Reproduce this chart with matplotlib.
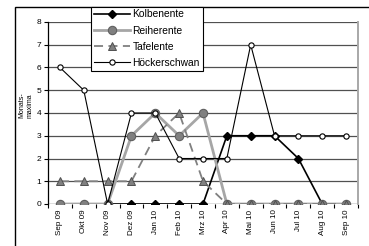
import numpy as np
import matplotlib
matplotlib.use('Agg')
import matplotlib.pyplot as plt
from matplotlib.patches import Rectangle

plt.rcParams['font.family'] = ['Liberation Sans', 'DejaVu Sans']

# data
months = ['Sep 09', 'Okt 09', 'Nov 09', 'Dez 09', 'Jan 10', 'Feb 10', 'Mrz 10',
          'Apr 10', 'Mai 10', 'Jun 10', 'Jul 10', 'Aug 10', 'Sep 10']
kolbenente = [0, 0, 0, 0, 0, 0, 0, 3, 3, 3, 2, 0, 0]
reiherente = [0, 0, 0, 3, 4, 3, 4, 0, 0, 0, 0, 0, 0]
tafelente = [1, 1, 1, 1, 3, 4, 1, 0, 0, 0, 0, 0, 0]
hoeckerschwan = [6, 5, 0, 4, 4, 2, 2, 2, 7, 3, 3, 3, 3]
y_ticks = [0, 1, 2, 3, 4, 5, 6, 7, 8]

fig = plt.figure(figsize=(3.69, 2.46), dpi=100)
ax = fig.add_axes([48 / 369, 1 - 204 / 246, 310 / 369, 182 / 246])

x = np.arange(len(months))

ax.plot(x, kolbenente, color='black', lw=1.2, marker='D', ms=4,
        mfc='black', mec='black', label='Kolbenente', zorder=3)
ax.plot(x, reiherente, color='#a6a6a6', lw=2.0, marker='o', ms=6,
        mfc='#808080', mec='#606060', mew=0.8, label='Reiherente', zorder=4)
ax.plot(x, tafelente, color='#808080', lw=1.3, ls=(0, (5, 3)), marker='^', ms=6,
        mfc='#808080', mec='#505050', mew=0.7, label='Tafelente', zorder=5)
ax.plot(x, hoeckerschwan, color='black', lw=0.8, marker='o', ms=3.8,
        mfc='white', mec='black', mew=0.8, label='Höckerschwan', zorder=6)

ax.set_xlim(-0.5, len(months) - 0.5)
ax.set_ylim(0, 8)
ax.set_yticks(y_ticks)
ax.set_yticklabels([str(v) for v in y_ticks], fontsize=6)
ax.set_xticks(x)
ax.set_xticklabels(months, rotation=90, fontsize=5.8)
ax.set_xticks(np.arange(len(months) + 1) - 0.5, minor=True)
ax.tick_params(axis='x', which='major', length=0, pad=4)
ax.tick_params(axis='x', which='minor', length=3, width=0.8, direction='out')
ax.tick_params(axis='y', length=3, width=0.8, direction='out', pad=2)

for v in y_ticks[1:]:
    ax.axhline(v, color='#505050', lw=0.9, zorder=1)
ax.axhline(0, color='black', lw=0.9, zorder=2)

ax.spines['top'].set_visible(False)
ax.spines['bottom'].set_visible(False)
ax.spines['left'].set_color('black')
ax.spines['left'].set_linewidth(0.9)
ax.spines['right'].set_color('#a8a8a8')
ax.spines['right'].set_linewidth(1.4)

fig.text(26 / 369, 1 - 118 / 246, 'Monats-\nmaxima', rotation=90,
         ha='center', va='bottom', fontsize=5, multialignment='left')

# chart area border (partly outside the image)
fig.add_artist(Rectangle((15 / 369, -0.2), 1.2, 1.2 - 7 / 246,
                         transform=fig.transFigure, fill=False,
                         edgecolor='black', lw=1.0, zorder=0))

leg = ax.legend(loc='upper left', bbox_to_anchor=(91 / 369, 1 - 6.5 / 246),
                bbox_transform=fig.transFigure, fontsize=7.4, frameon=True,
                fancybox=False, edgecolor='black', framealpha=1,
                handlelength=3.5, handletextpad=0.25, labelspacing=0.6,
                borderpad=0.28, borderaxespad=0)
leg.get_frame().set_linewidth(0.8)
leg.set_zorder(10)

fig.savefig('out.png', dpi=100)
